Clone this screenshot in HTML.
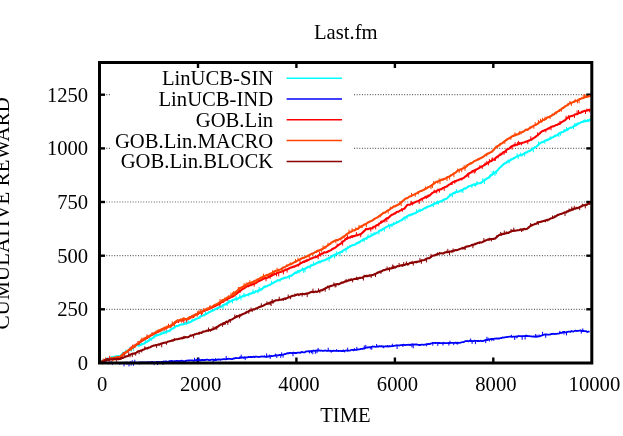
<!DOCTYPE html>
<html><head><meta charset="utf-8"><title>Last.fm</title>
<style>
html,body{margin:0;padding:0;background:#fff;}
body{width:623px;height:436px;overflow:hidden;}
svg{display:block;will-change:transform;}
text{font-family:"Liberation Serif",serif;font-size:20.65px;fill:#000;}
</style></head><body>
<svg width="623" height="436" viewBox="0 0 623 436">
<rect width="623" height="436" fill="#fff"/>
<g stroke="#000" stroke-width="1.2" stroke-dasharray="1 1.64" opacity="0.62">
<line x1="101.0" y1="309.3" x2="590.3" y2="309.3"/>
<line x1="101.0" y1="255.7" x2="590.3" y2="255.7"/>
<line x1="101.0" y1="202.0" x2="590.3" y2="202.0"/>
<line x1="101.0" y1="148.4" x2="111.0" y2="148.4"/>
<line x1="354.0" y1="148.4" x2="590.3" y2="148.4"/>
<line x1="101.0" y1="94.7" x2="111.0" y2="94.7"/>
<line x1="354.0" y1="94.7" x2="590.3" y2="94.7"/>
</g>
<g stroke="#000" stroke-width="2.4">
<line x1="99.5" y1="309.3" x2="105.0" y2="309.3"/>
<line x1="591.8" y1="309.3" x2="586.3" y2="309.3"/>
<line x1="99.5" y1="255.7" x2="105.0" y2="255.7"/>
<line x1="591.8" y1="255.7" x2="586.3" y2="255.7"/>
<line x1="99.5" y1="202.0" x2="105.0" y2="202.0"/>
<line x1="591.8" y1="202.0" x2="586.3" y2="202.0"/>
<line x1="99.5" y1="148.4" x2="105.0" y2="148.4"/>
<line x1="591.8" y1="148.4" x2="586.3" y2="148.4"/>
<line x1="99.5" y1="94.7" x2="105.0" y2="94.7"/>
<line x1="591.8" y1="94.7" x2="586.3" y2="94.7"/>
<line x1="198.0" y1="363.0" x2="198.0" y2="357.5"/>
<line x1="198.0" y1="62.5" x2="198.0" y2="68.0"/>
<line x1="296.4" y1="363.0" x2="296.4" y2="357.5"/>
<line x1="296.4" y1="62.5" x2="296.4" y2="68.0"/>
<line x1="394.9" y1="363.0" x2="394.9" y2="357.5"/>
<line x1="394.9" y1="62.5" x2="394.9" y2="68.0"/>
<line x1="493.3" y1="363.0" x2="493.3" y2="357.5"/>
<line x1="493.3" y1="62.5" x2="493.3" y2="68.0"/>
</g>
<g>
<path d="M99.5 363.2 L100.5 362.3 L101.5 361.3 L102.5 360.8 L103.5 360.7 L104.5 359.9 L105.5 359.5 L106.5 358.9 L107.5 358.8 L108.5 358.6 L109.5 358.2 L110.5 357.9 L111.5 357.6 L112.5 357.5 L113.5 357.0 L114.5 357.3 L115.5 356.8 L116.5 356.4 L117.5 356.3 L118.5 356.1 L119.5 356.2 L120.5 356.0 L121.5 354.5 L122.5 354.3 L123.5 353.8 L124.5 352.9 L125.5 352.1 L126.5 351.7 L127.5 351.0 L128.5 350.6 L129.5 349.8 L130.5 348.7 L131.5 348.5 L132.5 347.6 L133.5 347.5 L134.5 346.5 L135.5 345.8 L136.5 345.3 L137.5 345.2 L138.5 345.4 L139.5 345.1 L140.5 344.9 L141.5 344.6 L142.5 344.0 L143.5 343.8 L144.5 343.1 L145.5 342.4 L146.5 342.1 L147.5 341.2 L148.5 340.6 L149.5 339.9 L150.5 338.9 L151.5 338.8 L152.5 338.2 L153.5 337.3 L154.5 336.3 L155.5 335.3 L156.5 335.4 L157.5 335.3 L158.5 334.8 L159.5 334.5 L160.5 334.3 L161.5 333.8 L162.5 333.2 L163.5 333.1 L164.5 332.7 L165.5 331.9 L166.5 331.8 L167.5 331.3 L168.5 331.2 L169.5 330.7 L170.5 329.7 L171.5 328.9 L172.5 328.8 L173.5 328.0 L174.5 327.5 L175.5 326.2 L176.5 326.1 L177.5 326.0 L178.5 325.7 L179.5 325.0 L180.5 324.8 L181.5 324.4 L182.5 324.4 L183.5 324.2 L184.5 323.8 L185.5 323.3 L186.5 323.5 L187.5 323.1 L188.5 322.8 L189.5 322.3 L190.5 322.0 L191.5 321.4 L192.5 320.6 L193.5 320.3 L194.5 320.1 L195.5 319.1 L196.5 318.8 L197.5 318.4 L198.5 318.0 L199.5 317.3 L200.5 316.4 L201.5 315.9 L202.5 315.7 L203.5 315.3 L204.5 315.2 L205.5 314.0 L206.5 313.9 L207.5 313.4 L208.5 312.4 L209.5 312.0 L210.5 311.7 L211.5 311.1 L212.5 310.7 L213.5 310.3 L214.5 309.6 L215.5 309.3 L216.5 308.6 L217.5 308.1 L218.5 307.8 L219.5 307.1 L220.5 306.7 L221.5 306.5 L222.5 305.7 L223.5 305.1 L224.5 304.8 L225.5 304.1 L226.5 303.9 L227.5 302.8 L228.5 302.6 L229.5 301.8 L230.5 301.2 L231.5 301.1 L232.5 300.0 L233.5 300.0 L234.5 299.4 L235.5 299.3 L236.5 298.8 L237.5 298.8 L238.5 298.3 L239.5 297.5 L240.5 296.9 L241.5 297.0 L242.5 296.2 L243.5 295.8 L244.5 295.5 L245.5 295.4 L246.5 295.1 L247.5 294.7 L248.5 294.6 L249.5 293.8 L250.5 293.6 L251.5 293.4 L252.5 292.5 L253.5 292.6 L254.5 292.5 L255.5 291.5 L256.5 291.3 L257.5 291.0 L258.5 290.4 L259.5 290.2 L260.5 289.2 L261.5 289.0 L262.5 288.6 L263.5 287.4 L264.5 287.2 L265.5 286.4 L266.5 286.5 L267.5 285.8 L268.5 285.4 L269.5 285.0 L270.5 284.5 L271.5 283.8 L272.5 283.3 L273.5 282.7 L274.5 282.2 L275.5 281.5 L276.5 281.3 L277.5 280.4 L278.5 280.3 L279.5 280.3 L280.5 279.5 L281.5 278.8 L282.5 278.8 L283.5 278.2 L284.5 277.7 L285.5 277.6 L286.5 277.5 L287.5 277.1 L288.5 276.6 L289.5 276.0 L290.5 275.6 L291.5 275.7 L292.5 274.9 L293.5 274.1 L294.5 273.2 L295.5 272.8 L296.5 272.9 L297.5 271.6 L298.5 271.4 L299.5 271.1 L300.5 270.5 L301.5 270.1 L302.5 269.4 L303.5 269.0 L304.5 269.1 L305.5 268.2 L306.5 268.1 L307.5 267.1 L308.5 266.9 L309.5 266.6 L310.5 266.3 L311.5 265.4 L312.5 265.3 L313.5 264.8 L314.5 264.2 L315.5 263.9 L316.5 263.1 L317.5 262.6 L318.5 262.4 L319.5 261.5 L320.5 261.7 L321.5 261.2 L322.5 260.7 L323.5 260.5 L324.5 260.3 L325.5 259.6 L326.5 259.5 L327.5 258.6 L328.5 258.1 L329.5 258.1 L330.5 257.3 L331.5 256.8 L332.5 255.8 L333.5 255.5 L334.5 254.9 L335.5 254.5 L336.5 254.0 L337.5 253.8 L338.5 253.0 L339.5 252.6 L340.5 252.0 L341.5 251.9 L342.5 250.9 L343.5 250.3 L344.5 249.7 L345.5 249.3 L346.5 248.5 L347.5 248.1 L348.5 247.4 L349.5 246.8 L350.5 246.1 L351.5 245.8 L352.5 245.3 L353.5 245.0 L354.5 244.7 L355.5 244.3 L356.5 243.4 L357.5 243.2 L358.5 242.5 L359.5 242.2 L360.5 241.1 L361.5 240.7 L362.5 240.2 L363.5 239.6 L364.5 239.3 L365.5 238.5 L366.5 238.2 L367.5 237.3 L368.5 236.7 L369.5 236.8 L370.5 236.1 L371.5 235.6 L372.5 235.1 L373.5 234.6 L374.5 233.8 L375.5 233.7 L376.5 232.8 L377.5 232.5 L378.5 231.7 L379.5 230.8 L380.5 230.3 L381.5 230.2 L382.5 229.4 L383.5 228.7 L384.5 228.2 L385.5 227.5 L386.5 226.9 L387.5 226.4 L388.5 225.9 L389.5 225.8 L390.5 225.1 L391.5 225.0 L392.5 224.6 L393.5 224.2 L394.5 223.7 L395.5 223.1 L396.5 222.7 L397.5 222.2 L398.5 221.7 L399.5 221.3 L400.5 220.5 L401.5 220.3 L402.5 219.4 L403.5 218.5 L404.5 217.5 L405.5 217.3 L406.5 216.7 L407.5 216.1 L408.5 215.6 L409.5 214.9 L410.5 215.0 L411.5 214.4 L412.5 214.5 L413.5 213.6 L414.5 213.2 L415.5 213.1 L416.5 212.4 L417.5 211.9 L418.5 211.3 L419.5 210.7 L420.5 210.6 L421.5 210.1 L422.5 209.7 L423.5 208.8 L424.5 208.4 L425.5 207.7 L426.5 207.5 L427.5 206.6 L428.5 206.5 L429.5 206.2 L430.5 205.9 L431.5 205.0 L432.5 204.9 L433.5 204.2 L434.5 203.7 L435.5 203.2 L436.5 203.2 L437.5 202.9 L438.5 202.0 L439.5 201.6 L440.5 201.2 L441.5 201.4 L442.5 200.6 L443.5 199.9 L444.5 199.2 L445.5 199.0 L446.5 198.7 L447.5 198.0 L448.5 196.8 L449.5 196.0 L450.5 195.2 L451.5 194.2 L452.5 194.0 L453.5 193.0 L454.5 193.1 L455.5 192.2 L456.5 192.0 L457.5 192.0 L458.5 191.5 L459.5 191.4 L460.5 190.7 L461.5 190.0 L462.5 189.8 L463.5 189.4 L464.5 188.3 L465.5 188.6 L466.5 187.8 L467.5 187.4 L468.5 186.3 L469.5 186.1 L470.5 185.8 L471.5 185.7 L472.5 184.9 L473.5 184.7 L474.5 184.2 L475.5 184.3 L476.5 184.1 L477.5 183.4 L478.5 183.3 L479.5 183.2 L480.5 183.1 L481.5 182.5 L482.5 181.6 L483.5 180.8 L484.5 180.1 L485.5 179.5 L486.5 178.9 L487.5 178.1 L488.5 177.7 L489.5 176.6 L490.5 175.5 L491.5 175.2 L492.5 174.3 L493.5 173.7 L494.5 173.1 L495.5 172.1 L496.5 171.2 L497.5 170.5 L498.5 169.1 L499.5 168.0 L500.5 167.2 L501.5 166.2 L502.5 165.2 L503.5 164.1 L504.5 163.8 L505.5 162.8 L506.5 162.6 L507.5 161.6 L508.5 161.4 L509.5 160.7 L510.5 160.1 L511.5 159.6 L512.5 158.8 L513.5 158.5 L514.5 158.0 L515.5 157.3 L516.5 156.7 L517.5 156.1 L518.5 155.7 L519.5 155.4 L520.5 155.1 L521.5 155.3 L522.5 154.4 L523.5 154.0 L524.5 153.2 L525.5 152.8 L526.5 152.3 L527.5 151.9 L528.5 151.2 L529.5 151.2 L530.5 150.2 L531.5 149.9 L532.5 148.6 L533.5 148.4 L534.5 147.9 L535.5 147.2 L536.5 146.5 L537.5 145.6 L538.5 144.8 L539.5 143.6 L540.5 143.0 L541.5 142.2 L542.5 142.3 L543.5 141.7 L544.5 141.1 L545.5 140.5 L546.5 140.1 L547.5 140.1 L548.5 139.7 L549.5 138.9 L550.5 138.8 L551.5 137.8 L552.5 137.2 L553.5 136.9 L554.5 136.2 L555.5 135.7 L556.5 135.3 L557.5 135.2 L558.5 133.8 L559.5 133.3 L560.5 132.8 L561.5 132.3 L562.5 132.1 L563.5 131.8 L564.5 130.8 L565.5 130.6 L566.5 130.0 L567.5 129.7 L568.5 128.8 L569.5 128.2 L570.5 127.6 L571.5 127.7 L572.5 127.1 L573.5 126.6 L574.5 125.6 L575.5 125.5 L576.5 124.9 L577.5 124.1 L578.5 123.6 L579.5 123.3 L580.5 122.7 L581.5 122.0 L582.5 121.9 L583.5 121.4 L584.5 121.3 L585.5 121.1 L586.5 121.0 L587.5 120.7 L588.5 120.4 L589.5 120.2 L590.5 119.9" fill="none" stroke="#00ffff" stroke-width="2.1" stroke-linejoin="round"/>
<path d="M102.5 360.2 V363.6 M106.3 358.6 V362.6 M111.8 356.1 V358.2 M115.3 355.6 V357.4 M116.4 355.9 V359.1 M121.5 353.8 V356.4 M122.9 351.7 V354.3 M125.8 349.5 V353.1 M129.8 346.9 V350.5 M131.3 348.0 V351.6 M132.5 346.5 V348.3 M133.4 346.8 V350.8 M137.5 343.2 V346.0 M139.1 344.5 V346.8 M141.3 342.5 V345.2 M145.4 339.5 V343.6 M147.9 340.3 V342.4 M148.9 339.9 V341.8 M149.8 337.8 V340.2 M151.1 338.4 V341.0 M154.8 335.9 V338.4 M156.3 334.2 V336.6 M161.0 331.8 V334.3 M163.2 330.0 V334.1 M166.1 331.3 V334.2 M166.9 330.0 V332.7 M170.7 329.3 V331.5 M184.7 322.3 V324.2 M186.2 320.4 V324.6 M188.1 319.5 V323.7 M192.2 319.0 V321.4 M200.0 316.3 V318.6 M201.4 314.0 V317.2 M205.6 311.2 V314.9 M218.5 307.1 V309.1 M223.0 304.4 V309.1 M227.2 302.6 V305.8 M228.2 299.9 V303.1 M229.3 300.1 V302.8 M232.5 299.8 V303.4 M236.0 295.8 V299.8 M236.8 298.1 V301.2 M239.8 294.3 V297.8 M241.0 296.0 V300.3 M242.9 295.6 V297.4 M243.9 292.9 V296.4 M244.9 295.1 V297.4 M248.7 293.3 V296.5 M253.0 289.5 V293.5 M254.1 291.8 V293.7 M255.5 290.2 V292.2 M258.0 290.5 V293.4 M259.2 287.0 V291.4 M261.2 288.7 V291.3 M262.4 287.7 V289.6 M264.2 285.5 V287.9 M271.5 280.8 V284.9 M280.0 279.2 V281.8 M289.4 275.7 V279.3 M295.9 271.3 V273.3 M297.8 269.9 V272.6 M299.1 270.5 V273.6 M302.5 267.5 V270.7 M303.7 268.6 V272.8 M305.0 267.9 V272.3 M310.1 265.9 V268.8 M311.1 263.9 V266.4 M313.4 261.6 V265.7 M318.0 261.3 V263.1 M320.0 261.2 V263.6 M329.1 257.7 V261.7 M330.3 255.5 V258.3 M333.4 253.9 V255.9 M334.6 253.8 V258.5 M335.6 254.0 V256.5 M336.5 251.5 V255.0 M340.0 252.0 V256.3 M342.7 250.5 V252.8 M346.1 248.2 V252.5 M347.4 246.2 V249.3 M349.9 245.2 V247.5 M357.0 242.1 V244.1 M358.4 241.4 V243.5 M359.5 241.3 V243.3 M363.2 238.1 V241.0 M364.2 238.6 V242.2 M366.8 237.5 V240.0 M368.1 234.3 V238.2 M371.1 232.9 V236.3 M372.3 233.5 V235.8 M373.9 232.3 V234.9 M374.8 232.6 V234.6 M378.9 230.5 V234.6 M381.4 229.6 V231.3 M384.3 227.4 V231.6 M388.7 223.6 V226.7 M389.6 225.0 V229.0 M392.0 223.5 V227.3 M393.4 222.1 V224.3 M396.5 220.9 V223.4 M405.1 216.9 V220.7 M407.0 216.2 V219.2 M410.2 214.6 V216.4 M416.6 209.3 V212.9 M418.6 209.5 V211.8 M419.9 208.6 V211.8 M426.1 207.0 V209.1 M433.3 203.6 V207.2 M434.4 202.3 V204.5 M435.7 202.1 V204.0 M436.6 201.3 V203.9 M437.5 200.5 V203.4 M438.3 201.4 V204.5 M444.1 198.9 V201.5 M449.5 193.7 V197.0 M452.4 193.1 V197.4 M455.2 191.2 V193.8 M456.4 189.1 V193.0 M462.0 189.3 V192.5 M462.9 188.7 V193.0 M471.9 184.6 V187.9 M474.5 184.0 V186.1 M475.6 183.6 V186.8 M476.9 181.1 V184.9 M482.8 178.1 V182.2 M484.4 179.5 V184.0 M489.8 175.7 V178.8 M490.7 174.0 V176.7 M492.2 171.4 V174.8 M493.5 170.6 V174.5 M495.0 172.0 V175.8 M496.4 170.5 V174.2 M503.5 163.6 V165.3 M507.0 161.4 V163.4 M508.0 159.5 V162.0 M509.3 160.0 V163.2 M510.9 158.3 V160.2 M513.5 157.1 V159.2 M517.1 153.3 V156.9 M518.2 155.6 V159.2 M520.4 152.6 V155.9 M521.8 154.0 V156.5 M524.7 152.4 V156.4 M527.1 151.6 V153.4 M533.3 147.8 V152.3 M534.9 145.9 V148.2 M538.5 141.5 V145.6 M544.8 140.5 V143.8 M546.3 139.0 V140.7 M547.4 138.5 V140.2 M550.1 136.2 V139.3 M554.8 134.8 V136.6 M558.8 133.4 V137.0 M560.6 132.2 V135.8 M564.2 129.0 V131.8 M566.5 127.0 V130.5 M567.4 128.0 V130.6 M573.5 125.7 V129.1 M574.8 123.0 V126.8 M576.1 123.2 V125.9 M577.8 122.4 V125.3 M583.6 120.0 V122.5 M585.0 119.1 V122.2 M587.4 119.1 V121.3 M588.9 119.9 V122.2 M590.1 118.2 V120.6" fill="none" stroke="#00ffff" stroke-width="1"/>
<path d="M99.5 362.7 L100.5 363.1 L101.5 363.1 L102.5 362.9 L103.5 363.1 L104.5 362.8 L105.5 363.0 L106.5 362.6 L107.5 363.1 L108.5 363.3 L109.5 363.1 L110.5 362.9 L111.5 363.0 L112.5 362.9 L113.5 362.9 L114.5 362.9 L115.5 363.0 L116.5 362.8 L117.5 362.9 L118.5 362.8 L119.5 363.0 L120.5 363.1 L121.5 363.0 L122.5 362.9 L123.5 363.1 L124.5 362.7 L125.5 363.2 L126.5 362.4 L127.5 363.0 L128.5 362.8 L129.5 362.9 L130.5 362.5 L131.5 363.0 L132.5 362.8 L133.5 362.7 L134.5 362.9 L135.5 362.7 L136.5 362.7 L137.5 362.8 L138.5 362.6 L139.5 362.6 L140.5 362.4 L141.5 362.4 L142.5 362.5 L143.5 362.3 L144.5 362.5 L145.5 362.3 L146.5 362.3 L147.5 362.3 L148.5 362.1 L149.5 362.4 L150.5 362.4 L151.5 361.8 L152.5 362.2 L153.5 362.1 L154.5 362.3 L155.5 362.5 L156.5 362.0 L157.5 362.0 L158.5 361.9 L159.5 362.1 L160.5 362.1 L161.5 361.9 L162.5 361.8 L163.5 361.5 L164.5 361.6 L165.5 361.4 L166.5 361.5 L167.5 361.8 L168.5 361.5 L169.5 361.2 L170.5 361.1 L171.5 361.0 L172.5 361.2 L173.5 361.6 L174.5 361.1 L175.5 361.1 L176.5 360.9 L177.5 360.9 L178.5 361.2 L179.5 361.1 L180.5 360.8 L181.5 360.7 L182.5 360.9 L183.5 361.2 L184.5 361.3 L185.5 360.9 L186.5 360.6 L187.5 360.7 L188.5 360.5 L189.5 360.3 L190.5 360.3 L191.5 360.4 L192.5 360.5 L193.5 360.6 L194.5 360.5 L195.5 360.3 L196.5 359.8 L197.5 360.4 L198.5 360.2 L199.5 360.0 L200.5 360.3 L201.5 359.9 L202.5 360.0 L203.5 360.1 L204.5 360.0 L205.5 360.0 L206.5 359.6 L207.5 359.7 L208.5 360.0 L209.5 360.1 L210.5 360.0 L211.5 359.7 L212.5 359.7 L213.5 359.7 L214.5 360.1 L215.5 359.7 L216.5 360.0 L217.5 359.5 L218.5 359.5 L219.5 359.5 L220.5 359.8 L221.5 359.3 L222.5 359.4 L223.5 359.2 L224.5 359.2 L225.5 359.4 L226.5 359.0 L227.5 359.0 L228.5 358.7 L229.5 358.8 L230.5 358.9 L231.5 359.1 L232.5 359.1 L233.5 358.4 L234.5 358.5 L235.5 358.0 L236.5 358.2 L237.5 358.2 L238.5 358.2 L239.5 358.1 L240.5 357.7 L241.5 357.6 L242.5 357.4 L243.5 357.9 L244.5 357.2 L245.5 357.6 L246.5 357.3 L247.5 357.4 L248.5 356.8 L249.5 357.1 L250.5 357.0 L251.5 356.9 L252.5 357.0 L253.5 356.6 L254.5 357.1 L255.5 356.6 L256.5 356.7 L257.5 356.9 L258.5 356.8 L259.5 357.0 L260.5 356.6 L261.5 356.4 L262.5 356.6 L263.5 356.6 L264.5 356.2 L265.5 356.9 L266.5 356.9 L267.5 356.3 L268.5 356.6 L269.5 356.3 L270.5 356.3 L271.5 355.9 L272.5 356.1 L273.5 355.9 L274.5 355.7 L275.5 355.4 L276.5 355.3 L277.5 355.4 L278.5 355.4 L279.5 354.9 L280.5 355.0 L281.5 354.7 L282.5 354.9 L283.5 354.5 L284.5 354.2 L285.5 354.0 L286.5 353.6 L287.5 353.2 L288.5 353.4 L289.5 352.9 L290.5 352.8 L291.5 353.1 L292.5 353.0 L293.5 352.7 L294.5 353.1 L295.5 352.8 L296.5 353.1 L297.5 352.7 L298.5 352.6 L299.5 352.6 L300.5 352.8 L301.5 352.0 L302.5 352.1 L303.5 352.3 L304.5 352.4 L305.5 351.7 L306.5 351.4 L307.5 351.4 L308.5 351.2 L309.5 351.6 L310.5 351.3 L311.5 350.9 L312.5 351.2 L313.5 350.5 L314.5 350.8 L315.5 350.7 L316.5 350.7 L317.5 350.5 L318.5 350.6 L319.5 350.3 L320.5 350.8 L321.5 350.5 L322.5 350.8 L323.5 350.9 L324.5 350.6 L325.5 350.5 L326.5 350.8 L327.5 350.9 L328.5 350.5 L329.5 350.8 L330.5 350.7 L331.5 351.2 L332.5 351.0 L333.5 350.6 L334.5 350.8 L335.5 350.9 L336.5 350.8 L337.5 350.9 L338.5 351.0 L339.5 350.9 L340.5 350.8 L341.5 351.2 L342.5 351.0 L343.5 350.8 L344.5 350.8 L345.5 350.7 L346.5 350.5 L347.5 350.7 L348.5 350.7 L349.5 350.6 L350.5 350.3 L351.5 349.8 L352.5 349.9 L353.5 350.3 L354.5 349.6 L355.5 349.9 L356.5 349.8 L357.5 349.5 L358.5 349.3 L359.5 349.3 L360.5 349.0 L361.5 348.8 L362.5 348.8 L363.5 348.4 L364.5 348.6 L365.5 347.6 L366.5 347.6 L367.5 347.5 L368.5 347.4 L369.5 347.1 L370.5 347.4 L371.5 347.0 L372.5 346.4 L373.5 346.6 L374.5 346.7 L375.5 346.8 L376.5 346.6 L377.5 346.3 L378.5 346.6 L379.5 346.1 L380.5 346.4 L381.5 346.1 L382.5 346.6 L383.5 346.4 L384.5 346.7 L385.5 346.2 L386.5 346.3 L387.5 346.2 L388.5 346.5 L389.5 346.1 L390.5 346.4 L391.5 346.1 L392.5 346.2 L393.5 346.0 L394.5 345.7 L395.5 345.7 L396.5 345.3 L397.5 345.3 L398.5 345.3 L399.5 345.5 L400.5 345.1 L401.5 345.2 L402.5 345.0 L403.5 344.7 L404.5 345.0 L405.5 345.1 L406.5 344.8 L407.5 344.8 L408.5 344.7 L409.5 344.8 L410.5 345.0 L411.5 344.3 L412.5 344.5 L413.5 344.3 L414.5 344.6 L415.5 344.5 L416.5 344.5 L417.5 344.7 L418.5 345.0 L419.5 344.9 L420.5 345.0 L421.5 344.6 L422.5 344.7 L423.5 344.9 L424.5 344.7 L425.5 344.6 L426.5 344.2 L427.5 344.1 L428.5 343.9 L429.5 344.1 L430.5 343.6 L431.5 343.4 L432.5 343.0 L433.5 342.9 L434.5 342.8 L435.5 343.0 L436.5 342.8 L437.5 342.9 L438.5 343.2 L439.5 342.8 L440.5 343.1 L441.5 343.2 L442.5 343.3 L443.5 342.7 L444.5 343.2 L445.5 343.1 L446.5 343.2 L447.5 343.1 L448.5 342.9 L449.5 343.1 L450.5 342.9 L451.5 342.8 L452.5 342.8 L453.5 342.8 L454.5 342.9 L455.5 342.6 L456.5 343.0 L457.5 342.6 L458.5 342.9 L459.5 342.8 L460.5 342.6 L461.5 342.4 L462.5 342.2 L463.5 342.2 L464.5 341.5 L465.5 341.1 L466.5 341.2 L467.5 341.0 L468.5 341.4 L469.5 340.6 L470.5 341.0 L471.5 341.2 L472.5 341.1 L473.5 341.1 L474.5 340.7 L475.5 340.8 L476.5 340.9 L477.5 341.0 L478.5 341.0 L479.5 341.2 L480.5 340.7 L481.5 341.0 L482.5 341.2 L483.5 340.8 L484.5 340.4 L485.5 340.4 L486.5 339.9 L487.5 340.0 L488.5 339.5 L489.5 339.5 L490.5 339.2 L491.5 338.9 L492.5 339.0 L493.5 338.9 L494.5 338.7 L495.5 338.7 L496.5 338.4 L497.5 338.7 L498.5 338.5 L499.5 338.5 L500.5 338.2 L501.5 338.0 L502.5 337.5 L503.5 337.6 L504.5 337.5 L505.5 337.2 L506.5 337.1 L507.5 336.9 L508.5 336.8 L509.5 336.7 L510.5 336.7 L511.5 336.5 L512.5 336.9 L513.5 336.7 L514.5 336.7 L515.5 336.7 L516.5 336.4 L517.5 336.6 L518.5 336.0 L519.5 336.1 L520.5 336.2 L521.5 336.4 L522.5 336.2 L523.5 336.1 L524.5 336.1 L525.5 335.9 L526.5 336.1 L527.5 336.0 L528.5 336.2 L529.5 336.1 L530.5 336.3 L531.5 336.3 L532.5 336.6 L533.5 336.4 L534.5 336.6 L535.5 336.6 L536.5 336.6 L537.5 336.7 L538.5 336.3 L539.5 336.4 L540.5 335.9 L541.5 335.7 L542.5 335.0 L543.5 334.9 L544.5 334.5 L545.5 334.5 L546.5 334.4 L547.5 334.6 L548.5 334.6 L549.5 334.7 L550.5 334.4 L551.5 333.8 L552.5 334.0 L553.5 333.7 L554.5 334.2 L555.5 333.9 L556.5 333.8 L557.5 333.6 L558.5 333.7 L559.5 333.3 L560.5 332.7 L561.5 333.0 L562.5 332.7 L563.5 332.0 L564.5 332.0 L565.5 332.5 L566.5 332.2 L567.5 331.9 L568.5 331.6 L569.5 331.6 L570.5 331.9 L571.5 331.0 L572.5 331.4 L573.5 331.6 L574.5 331.0 L575.5 330.7 L576.5 331.0 L577.5 330.9 L578.5 330.8 L579.5 330.6 L580.5 330.4 L581.5 330.8 L582.5 331.0 L583.5 331.0 L584.5 331.1 L585.5 331.1 L586.5 331.4 L587.5 332.1 L588.5 331.5 L589.5 331.9" fill="none" stroke="#0000ff" stroke-width="1.8" stroke-linejoin="round"/>
<path d="M102.5 359.7 V363.5 M111.2 361.2 V363.3 M112.4 362.0 V364.8 M119.9 362.2 V364.8 M124.0 362.3 V366.4 M126.9 361.9 V364.9 M129.0 362.2 V366.4 M130.2 361.2 V363.8 M131.2 362.4 V365.6 M132.2 360.2 V363.7 M133.5 362.3 V365.8 M134.8 359.7 V363.3 M139.3 361.6 V364.7 M151.8 361.2 V364.0 M154.1 361.7 V365.2 M157.5 361.1 V365.1 M162.9 361.0 V364.9 M180.5 360.2 V363.4 M194.5 357.8 V361.4 M196.8 359.7 V361.7 M198.9 357.7 V361.1 M213.2 359.0 V362.3 M215.7 358.2 V361.0 M226.2 356.0 V359.5 M240.0 356.1 V358.4 M241.2 354.6 V358.4 M245.2 357.0 V360.1 M266.6 353.4 V357.5 M269.3 354.5 V357.0 M270.2 355.4 V358.9 M275.4 353.6 V356.5 M276.8 354.6 V358.0 M280.8 354.3 V357.9 M281.7 352.3 V355.6 M283.1 354.0 V357.6 M293.0 351.9 V356.3 M309.5 350.4 V353.4 M311.5 350.3 V353.2 M312.8 350.4 V354.3 M315.4 350.1 V353.8 M317.0 349.7 V353.2 M318.1 347.9 V351.3 M328.2 347.7 V351.4 M331.2 350.3 V352.7 M336.6 349.1 V351.3 M343.2 349.4 V351.9 M344.6 350.4 V352.4 M347.7 347.7 V351.5 M354.4 348.2 V350.4 M356.8 346.9 V350.3 M364.3 345.5 V348.9 M365.8 344.9 V348.2 M370.8 346.4 V349.3 M371.8 346.0 V349.8 M376.6 344.0 V347.1 M383.4 345.9 V348.2 M387.8 345.1 V347.4 M392.3 343.7 V346.5 M397.1 344.7 V349.0 M402.9 344.1 V347.0 M411.9 344.0 V347.3 M413.2 343.9 V348.3 M426.7 343.8 V346.3 M432.8 342.1 V345.7 M437.8 342.4 V345.9 M443.0 342.0 V345.5 M448.9 342.2 V345.6 M450.0 340.7 V343.9 M453.7 342.0 V345.1 M456.6 342.0 V344.2 M457.7 342.1 V344.6 M470.7 338.5 V341.5 M472.1 340.0 V343.9 M475.4 340.5 V344.2 M485.7 339.2 V343.1 M486.9 336.8 V340.6 M488.1 337.7 V340.2 M489.4 338.9 V341.5 M491.8 338.3 V341.1 M493.8 338.1 V340.8 M511.4 334.8 V337.4 M514.7 336.2 V340.0 M516.9 336.0 V338.4 M522.2 335.3 V339.8 M525.1 335.3 V339.5 M526.2 334.5 V336.6 M535.4 334.1 V337.5 M536.9 334.6 V337.4 M539.1 334.4 V336.9 M542.6 331.8 V335.8 M545.7 334.1 V337.8 M559.8 330.9 V334.0 M562.8 331.1 V333.0 M564.0 331.4 V334.6 M566.5 331.8 V335.4 M581.3 329.9 V333.6 M582.8 328.4 V331.3" fill="none" stroke="#0000ff" stroke-width="1"/>
<path d="M99.5 362.9 L100.5 362.7 L101.5 362.0 L102.5 361.4 L103.5 361.1 L104.5 360.9 L105.5 360.2 L106.5 360.1 L107.5 359.6 L108.5 359.6 L109.5 358.7 L110.5 359.3 L111.5 358.8 L112.5 358.4 L113.5 358.3 L114.5 358.4 L115.5 358.0 L116.5 357.6 L117.5 357.4 L118.5 357.0 L119.5 357.1 L120.5 357.0 L121.5 355.8 L122.5 355.0 L123.5 354.0 L124.5 353.4 L125.5 352.8 L126.5 351.7 L127.5 351.4 L128.5 350.5 L129.5 349.9 L130.5 349.2 L131.5 348.5 L132.5 347.8 L133.5 347.2 L134.5 346.2 L135.5 345.4 L136.5 344.4 L137.5 344.0 L138.5 343.5 L139.5 342.5 L140.5 342.0 L141.5 341.0 L142.5 340.5 L143.5 340.0 L144.5 339.3 L145.5 338.7 L146.5 338.3 L147.5 337.6 L148.5 337.1 L149.5 336.2 L150.5 335.6 L151.5 335.3 L152.5 334.4 L153.5 334.3 L154.5 333.4 L155.5 333.0 L156.5 332.6 L157.5 331.7 L158.5 331.8 L159.5 330.9 L160.5 330.4 L161.5 329.7 L162.5 329.1 L163.5 328.6 L164.5 328.3 L165.5 328.2 L166.5 327.5 L167.5 327.4 L168.5 326.5 L169.5 326.3 L170.5 326.5 L171.5 325.6 L172.5 324.6 L173.5 324.4 L174.5 323.3 L175.5 322.2 L176.5 321.7 L177.5 321.2 L178.5 321.2 L179.5 320.5 L180.5 320.1 L181.5 319.9 L182.5 320.0 L183.5 319.8 L184.5 319.4 L185.5 319.3 L186.5 319.1 L187.5 319.3 L188.5 318.4 L189.5 318.1 L190.5 317.7 L191.5 317.0 L192.5 316.1 L193.5 316.0 L194.5 315.5 L195.5 314.9 L196.5 314.5 L197.5 314.3 L198.5 313.3 L199.5 312.9 L200.5 312.6 L201.5 312.3 L202.5 311.5 L203.5 311.2 L204.5 310.8 L205.5 310.1 L206.5 309.8 L207.5 309.6 L208.5 309.0 L209.5 308.5 L210.5 308.1 L211.5 307.7 L212.5 307.3 L213.5 306.9 L214.5 306.4 L215.5 305.8 L216.5 305.4 L217.5 304.8 L218.5 304.1 L219.5 303.9 L220.5 302.8 L221.5 301.9 L222.5 301.9 L223.5 301.0 L224.5 300.6 L225.5 299.8 L226.5 299.5 L227.5 298.7 L228.5 298.4 L229.5 298.1 L230.5 297.4 L231.5 296.6 L232.5 296.6 L233.5 296.0 L234.5 295.3 L235.5 294.2 L236.5 293.7 L237.5 292.9 L238.5 292.2 L239.5 291.3 L240.5 290.8 L241.5 289.8 L242.5 289.1 L243.5 288.5 L244.5 288.0 L245.5 287.4 L246.5 286.5 L247.5 286.1 L248.5 286.1 L249.5 285.4 L250.5 285.3 L251.5 284.7 L252.5 284.2 L253.5 283.9 L254.5 283.4 L255.5 283.3 L256.5 282.6 L257.5 281.8 L258.5 281.4 L259.5 280.9 L260.5 280.4 L261.5 280.0 L262.5 279.3 L263.5 278.7 L264.5 278.2 L265.5 278.1 L266.5 278.1 L267.5 277.6 L268.5 277.3 L269.5 276.6 L270.5 275.9 L271.5 275.9 L272.5 275.0 L273.5 274.5 L274.5 273.6 L275.5 273.9 L276.5 273.5 L277.5 272.6 L278.5 272.5 L279.5 272.2 L280.5 272.0 L281.5 271.7 L282.5 271.1 L283.5 270.7 L284.5 270.5 L285.5 269.6 L286.5 269.6 L287.5 269.2 L288.5 268.8 L289.5 268.1 L290.5 267.8 L291.5 267.3 L292.5 267.1 L293.5 266.5 L294.5 266.8 L295.5 265.8 L296.5 265.8 L297.5 265.0 L298.5 264.6 L299.5 264.4 L300.5 262.9 L301.5 263.0 L302.5 262.3 L303.5 261.6 L304.5 261.9 L305.5 260.8 L306.5 260.9 L307.5 260.3 L308.5 260.0 L309.5 259.3 L310.5 258.9 L311.5 258.4 L312.5 258.2 L313.5 257.5 L314.5 257.2 L315.5 257.3 L316.5 256.8 L317.5 256.2 L318.5 255.5 L319.5 254.9 L320.5 254.5 L321.5 253.7 L322.5 253.7 L323.5 252.9 L324.5 252.2 L325.5 252.5 L326.5 252.2 L327.5 251.7 L328.5 251.2 L329.5 250.7 L330.5 250.4 L331.5 249.8 L332.5 248.7 L333.5 248.6 L334.5 247.9 L335.5 247.6 L336.5 246.5 L337.5 245.8 L338.5 244.9 L339.5 244.5 L340.5 243.7 L341.5 243.1 L342.5 241.9 L343.5 241.2 L344.5 240.6 L345.5 239.1 L346.5 239.0 L347.5 238.4 L348.5 237.7 L349.5 237.4 L350.5 237.2 L351.5 236.6 L352.5 236.6 L353.5 236.0 L354.5 236.1 L355.5 235.5 L356.5 235.5 L357.5 235.2 L358.5 234.7 L359.5 234.4 L360.5 234.3 L361.5 233.6 L362.5 232.6 L363.5 231.7 L364.5 230.9 L365.5 229.7 L366.5 229.1 L367.5 229.1 L368.5 228.9 L369.5 228.6 L370.5 228.4 L371.5 228.2 L372.5 227.9 L373.5 226.8 L374.5 226.8 L375.5 226.2 L376.5 225.3 L377.5 225.0 L378.5 224.3 L379.5 223.4 L380.5 223.0 L381.5 222.1 L382.5 221.7 L383.5 221.1 L384.5 220.2 L385.5 219.5 L386.5 218.5 L387.5 218.0 L388.5 217.6 L389.5 217.0 L390.5 215.6 L391.5 215.3 L392.5 214.5 L393.5 214.3 L394.5 213.4 L395.5 213.4 L396.5 212.1 L397.5 211.8 L398.5 211.8 L399.5 211.0 L400.5 210.3 L401.5 210.0 L402.5 209.4 L403.5 208.9 L404.5 208.6 L405.5 207.1 L406.5 205.9 L407.5 204.8 L408.5 204.8 L409.5 204.7 L410.5 204.4 L411.5 203.3 L412.5 203.5 L413.5 202.9 L414.5 202.5 L415.5 201.9 L416.5 201.6 L417.5 201.3 L418.5 200.9 L419.5 200.4 L420.5 199.5 L421.5 199.2 L422.5 198.5 L423.5 198.3 L424.5 197.7 L425.5 196.9 L426.5 196.9 L427.5 196.5 L428.5 195.4 L429.5 195.7 L430.5 194.6 L431.5 193.8 L432.5 192.8 L433.5 192.4 L434.5 191.8 L435.5 191.6 L436.5 190.9 L437.5 190.5 L438.5 190.1 L439.5 189.8 L440.5 189.3 L441.5 189.2 L442.5 188.1 L443.5 187.8 L444.5 187.4 L445.5 186.8 L446.5 186.8 L447.5 185.9 L448.5 184.9 L449.5 184.5 L450.5 183.8 L451.5 183.0 L452.5 182.3 L453.5 181.7 L454.5 181.6 L455.5 181.0 L456.5 180.7 L457.5 180.3 L458.5 180.1 L459.5 179.5 L460.5 179.1 L461.5 178.9 L462.5 178.5 L463.5 178.1 L464.5 177.2 L465.5 176.3 L466.5 176.3 L467.5 174.7 L468.5 174.0 L469.5 173.0 L470.5 172.7 L471.5 172.1 L472.5 171.0 L473.5 171.2 L474.5 170.2 L475.5 170.0 L476.5 169.5 L477.5 168.8 L478.5 168.5 L479.5 167.6 L480.5 167.3 L481.5 166.7 L482.5 166.1 L483.5 165.6 L484.5 164.9 L485.5 164.2 L486.5 163.8 L487.5 163.0 L488.5 162.6 L489.5 161.7 L490.5 161.0 L491.5 161.1 L492.5 159.8 L493.5 159.8 L494.5 159.6 L495.5 158.1 L496.5 157.2 L497.5 156.5 L498.5 155.9 L499.5 155.2 L500.5 154.8 L501.5 154.2 L502.5 153.0 L503.5 152.1 L504.5 152.3 L505.5 150.9 L506.5 149.9 L507.5 149.2 L508.5 148.9 L509.5 148.3 L510.5 147.1 L511.5 146.5 L512.5 146.0 L513.5 145.5 L514.5 145.4 L515.5 145.1 L516.5 144.8 L517.5 144.6 L518.5 144.1 L519.5 143.7 L520.5 143.2 L521.5 143.2 L522.5 142.7 L523.5 142.5 L524.5 142.2 L525.5 141.8 L526.5 141.6 L527.5 141.1 L528.5 140.6 L529.5 140.5 L530.5 139.7 L531.5 139.6 L532.5 138.7 L533.5 138.3 L534.5 137.5 L535.5 137.0 L536.5 135.9 L537.5 135.5 L538.5 134.3 L539.5 133.7 L540.5 132.6 L541.5 131.8 L542.5 131.0 L543.5 130.9 L544.5 130.3 L545.5 129.9 L546.5 129.5 L547.5 129.0 L548.5 128.4 L549.5 128.0 L550.5 127.3 L551.5 126.8 L552.5 126.4 L553.5 126.4 L554.5 125.9 L555.5 125.3 L556.5 125.0 L557.5 124.7 L558.5 123.9 L559.5 124.0 L560.5 123.0 L561.5 122.1 L562.5 121.7 L563.5 121.0 L564.5 120.5 L565.5 119.8 L566.5 118.7 L567.5 118.0 L568.5 117.3 L569.5 116.8 L570.5 116.3 L571.5 116.0 L572.5 115.9 L573.5 115.4 L574.5 114.8 L575.5 114.2 L576.5 114.2 L577.5 113.9 L578.5 112.9 L579.5 112.9 L580.5 112.8 L581.5 112.3 L582.5 111.8 L583.5 111.3 L584.5 110.9 L585.5 110.8 L586.5 110.7 L587.5 110.4 L588.5 110.1 L589.5 109.7 L590.5 109.4" fill="none" stroke="#ff0000" stroke-width="2.1" stroke-linejoin="round"/>
<path d="M109.7 355.7 V359.9 M122.2 354.3 V357.0 M123.3 352.0 V355.4 M131.3 346.1 V349.6 M132.9 344.5 V348.1 M134.1 344.9 V347.3 M135.4 344.2 V346.1 M138.0 340.9 V344.0 M138.9 341.9 V345.1 M147.0 334.5 V338.4 M148.0 335.7 V337.9 M152.1 332.2 V335.5 M164.6 326.6 V328.9 M166.1 327.0 V330.5 M168.5 323.8 V327.3 M175.3 321.1 V323.5 M176.7 320.2 V322.5 M178.6 320.6 V323.0 M181.1 319.0 V321.7 M182.2 319.1 V321.9 M183.8 319.0 V323.1 M186.7 318.7 V322.4 M189.3 316.2 V319.3 M193.5 315.1 V318.0 M197.7 311.4 V315.1 M201.6 311.4 V315.3 M206.0 308.6 V310.7 M210.0 305.3 V309.3 M219.9 302.5 V306.6 M220.8 301.3 V303.6 M222.3 299.1 V302.3 M223.3 300.4 V302.8 M227.2 298.1 V301.0 M228.4 295.3 V298.8 M232.6 293.6 V297.1 M235.0 291.9 V296.1 M236.6 292.6 V295.0 M240.0 290.4 V293.1 M244.1 285.7 V289.1 M248.4 284.3 V286.3 M250.8 283.4 V285.8 M251.9 283.0 V285.2 M254.2 283.0 V286.7 M258.7 279.8 V282.0 M259.6 279.5 V281.8 M264.9 277.1 V278.9 M266.0 277.1 V281.2 M268.1 275.5 V278.2 M270.2 275.5 V278.7 M271.5 274.1 V276.5 M274.0 273.5 V275.7 M276.5 272.5 V276.3 M278.7 272.0 V276.3 M282.6 269.7 V272.2 M283.4 270.3 V274.4 M287.1 269.0 V272.5 M298.3 264.0 V266.7 M305.4 259.9 V262.3 M306.9 258.8 V261.4 M310.2 257.7 V260.0 M318.1 254.9 V259.1 M319.6 251.7 V255.6 M320.7 253.8 V256.5 M327.2 251.0 V252.9 M337.2 243.7 V247.0 M341.8 240.8 V243.1 M342.6 241.0 V245.6 M346.6 237.0 V239.2 M347.5 235.1 V239.3 M350.2 236.9 V238.7 M351.3 235.4 V237.6 M352.6 235.6 V238.1 M356.4 232.1 V235.9 M360.7 233.2 V237.2 M363.3 230.5 V232.4 M365.7 228.0 V229.8 M370.8 227.8 V231.6 M372.9 226.9 V229.6 M375.7 225.2 V229.4 M378.8 223.6 V226.5 M380.7 220.8 V223.5 M381.9 220.2 V222.8 M384.9 218.8 V222.4 M386.8 218.0 V222.1 M388.2 216.9 V219.6 M391.6 213.9 V216.0 M401.6 208.3 V210.8 M402.4 209.1 V211.8 M411.3 200.8 V204.3 M412.5 202.4 V205.4 M419.2 199.9 V204.0 M422.3 198.3 V201.5 M426.3 195.8 V199.0 M427.8 195.7 V198.0 M434.2 189.6 V193.0 M436.7 189.9 V193.5 M438.0 188.6 V190.9 M439.4 188.9 V192.6 M444.2 186.7 V190.9 M451.4 182.7 V185.0 M452.2 182.0 V184.9 M454.7 180.5 V183.7 M455.9 180.1 V182.5 M461.8 177.7 V180.5 M466.0 174.9 V176.9 M467.0 174.1 V175.8 M467.8 172.9 V175.6 M468.7 173.0 V177.7 M472.0 171.4 V173.2 M474.2 169.6 V173.6 M475.4 168.8 V172.5 M479.9 165.1 V168.1 M482.3 165.4 V168.9 M485.1 162.4 V165.3 M486.9 160.8 V164.3 M488.4 161.9 V165.4 M489.4 159.0 V162.9 M492.0 157.6 V160.8 M492.8 157.6 V160.4 M495.3 157.6 V160.9 M498.1 155.8 V158.4 M500.1 152.7 V155.9 M504.0 151.4 V154.9 M506.4 149.5 V153.0 M511.2 145.9 V148.3 M512.1 145.5 V149.6 M514.2 143.9 V145.9 M515.1 142.3 V146.2 M517.5 142.2 V145.3 M518.4 140.8 V144.5 M519.5 142.0 V144.5 M521.5 142.3 V145.3 M527.8 140.0 V144.2 M530.8 136.3 V140.2 M537.6 132.4 V135.7 M545.8 128.9 V132.4 M549.2 127.6 V129.5 M551.0 126.8 V130.3 M560.0 120.9 V124.4 M566.1 115.8 V119.4 M568.4 115.1 V118.4 M569.5 116.0 V120.1 M574.5 114.3 V117.9 M577.1 110.5 V114.9 M578.5 110.0 V114.0 M581.5 110.8 V112.8 M585.5 110.0 V114.0 M586.8 108.6 V111.1 M588.0 108.9 V110.7 M589.4 109.2 V112.3" fill="none" stroke="#ff0000" stroke-width="1"/>
<path d="M99.5 363.1 L100.5 362.2 L101.5 361.8 L102.5 361.6 L103.5 360.8 L104.5 360.1 L105.5 360.5 L106.5 360.3 L107.5 359.3 L108.5 359.3 L109.5 358.9 L110.5 358.5 L111.5 358.1 L112.5 358.6 L113.5 358.0 L114.5 357.5 L115.5 357.7 L116.5 357.4 L117.5 357.0 L118.5 357.4 L119.5 356.9 L120.5 356.5 L121.5 355.6 L122.5 355.1 L123.5 354.4 L124.5 353.1 L125.5 352.2 L126.5 351.9 L127.5 351.3 L128.5 350.1 L129.5 349.3 L130.5 349.0 L131.5 348.3 L132.5 347.5 L133.5 346.7 L134.5 345.9 L135.5 345.2 L136.5 344.3 L137.5 343.5 L138.5 343.2 L139.5 342.0 L140.5 341.4 L141.5 340.7 L142.5 339.9 L143.5 339.2 L144.5 338.7 L145.5 338.2 L146.5 337.3 L147.5 337.0 L148.5 336.7 L149.5 336.2 L150.5 335.2 L151.5 334.8 L152.5 334.2 L153.5 333.9 L154.5 332.9 L155.5 332.3 L156.5 332.2 L157.5 331.3 L158.5 330.4 L159.5 330.5 L160.5 330.0 L161.5 329.5 L162.5 328.9 L163.5 328.7 L164.5 328.3 L165.5 327.8 L166.5 327.6 L167.5 326.9 L168.5 325.9 L169.5 326.2 L170.5 325.9 L171.5 325.0 L172.5 324.5 L173.5 323.5 L174.5 322.8 L175.5 321.9 L176.5 321.1 L177.5 320.9 L178.5 320.6 L179.5 320.1 L180.5 319.6 L181.5 319.8 L182.5 319.4 L183.5 318.6 L184.5 319.1 L185.5 319.0 L186.5 319.1 L187.5 318.9 L188.5 318.2 L189.5 317.4 L190.5 317.2 L191.5 316.5 L192.5 315.8 L193.5 315.5 L194.5 315.0 L195.5 314.5 L196.5 314.0 L197.5 313.6 L198.5 313.2 L199.5 312.4 L200.5 312.3 L201.5 311.9 L202.5 311.0 L203.5 310.8 L204.5 310.0 L205.5 309.7 L206.5 309.2 L207.5 309.1 L208.5 308.2 L209.5 308.6 L210.5 307.7 L211.5 307.1 L212.5 306.5 L213.5 305.7 L214.5 305.1 L215.5 304.8 L216.5 304.1 L217.5 303.7 L218.5 303.3 L219.5 302.4 L220.5 301.9 L221.5 301.1 L222.5 300.3 L223.5 299.9 L224.5 299.7 L225.5 298.8 L226.5 298.2 L227.5 297.4 L228.5 297.0 L229.5 296.9 L230.5 296.1 L231.5 295.3 L232.5 294.9 L233.5 294.6 L234.5 294.2 L235.5 292.0 L236.5 291.4 L237.5 290.5 L238.5 289.3 L239.5 288.6 L240.5 288.1 L241.5 287.2 L242.5 286.9 L243.5 286.3 L244.5 285.7 L245.5 285.0 L246.5 284.6 L247.5 283.8 L248.5 283.2 L249.5 283.3 L250.5 283.1 L251.5 282.3 L252.5 282.2 L253.5 281.7 L254.5 280.9 L255.5 280.6 L256.5 280.3 L257.5 279.4 L258.5 279.1 L259.5 278.6 L260.5 277.9 L261.5 277.7 L262.5 276.9 L263.5 276.7 L264.5 276.1 L265.5 275.6 L266.5 275.3 L267.5 274.7 L268.5 275.0 L269.5 273.9 L270.5 273.5 L271.5 273.3 L272.5 272.7 L273.5 272.2 L274.5 271.3 L275.5 270.9 L276.5 270.7 L277.5 270.4 L278.5 270.2 L279.5 269.9 L280.5 269.4 L281.5 269.0 L282.5 268.0 L283.5 267.5 L284.5 267.1 L285.5 266.7 L286.5 266.0 L287.5 265.6 L288.5 265.2 L289.5 264.5 L290.5 264.1 L291.5 263.9 L292.5 263.3 L293.5 262.6 L294.5 262.2 L295.5 261.7 L296.5 261.2 L297.5 260.8 L298.5 260.0 L299.5 260.0 L300.5 258.9 L301.5 258.7 L302.5 257.9 L303.5 258.0 L304.5 257.5 L305.5 256.8 L306.5 256.6 L307.5 255.9 L308.5 255.7 L309.5 254.9 L310.5 254.4 L311.5 253.8 L312.5 253.5 L313.5 253.1 L314.5 252.6 L315.5 251.9 L316.5 251.4 L317.5 250.8 L318.5 250.5 L319.5 250.2 L320.5 249.8 L321.5 249.5 L322.5 248.8 L323.5 248.2 L324.5 248.0 L325.5 247.0 L326.5 246.3 L327.5 245.7 L328.5 244.9 L329.5 244.4 L330.5 243.6 L331.5 242.6 L332.5 242.0 L333.5 241.5 L334.5 240.7 L335.5 240.6 L336.5 240.0 L337.5 240.2 L338.5 239.7 L339.5 239.0 L340.5 239.0 L341.5 237.9 L342.5 237.4 L343.5 236.7 L344.5 236.1 L345.5 235.4 L346.5 234.2 L347.5 233.8 L348.5 233.0 L349.5 232.4 L350.5 231.8 L351.5 231.7 L352.5 230.8 L353.5 230.2 L354.5 230.5 L355.5 229.7 L356.5 229.1 L357.5 229.0 L358.5 228.2 L359.5 227.6 L360.5 226.6 L361.5 226.6 L362.5 225.6 L363.5 225.1 L364.5 224.4 L365.5 224.2 L366.5 223.6 L367.5 222.8 L368.5 222.3 L369.5 221.7 L370.5 221.3 L371.5 220.9 L372.5 220.3 L373.5 219.6 L374.5 218.9 L375.5 218.3 L376.5 217.9 L377.5 217.4 L378.5 216.6 L379.5 215.7 L380.5 215.2 L381.5 214.6 L382.5 213.6 L383.5 212.9 L384.5 212.7 L385.5 212.2 L386.5 211.4 L387.5 210.7 L388.5 210.1 L389.5 209.7 L390.5 208.6 L391.5 208.3 L392.5 207.6 L393.5 206.6 L394.5 206.4 L395.5 206.0 L396.5 205.5 L397.5 205.0 L398.5 204.5 L399.5 204.0 L400.5 202.7 L401.5 201.9 L402.5 201.3 L403.5 200.4 L404.5 199.5 L405.5 198.5 L406.5 198.5 L407.5 197.9 L408.5 197.3 L409.5 196.5 L410.5 196.4 L411.5 196.0 L412.5 195.2 L413.5 194.8 L414.5 194.4 L415.5 193.9 L416.5 193.4 L417.5 192.9 L418.5 192.0 L419.5 191.7 L420.5 191.0 L421.5 191.0 L422.5 190.4 L423.5 189.8 L424.5 189.6 L425.5 188.6 L426.5 188.5 L427.5 187.6 L428.5 187.0 L429.5 186.8 L430.5 186.0 L431.5 185.3 L432.5 184.6 L433.5 184.0 L434.5 183.3 L435.5 182.4 L436.5 181.7 L437.5 181.6 L438.5 181.4 L439.5 180.9 L440.5 180.4 L441.5 179.6 L442.5 179.7 L443.5 179.0 L444.5 178.9 L445.5 178.6 L446.5 177.8 L447.5 177.3 L448.5 176.8 L449.5 176.4 L450.5 175.8 L451.5 174.9 L452.5 174.6 L453.5 173.7 L454.5 173.1 L455.5 172.7 L456.5 171.8 L457.5 170.6 L458.5 170.2 L459.5 170.1 L460.5 169.2 L461.5 169.3 L462.5 168.7 L463.5 168.1 L464.5 167.7 L465.5 167.2 L466.5 166.5 L467.5 165.2 L468.5 164.6 L469.5 163.9 L470.5 163.4 L471.5 163.2 L472.5 162.6 L473.5 161.8 L474.5 161.0 L475.5 160.7 L476.5 160.1 L477.5 159.7 L478.5 159.2 L479.5 158.7 L480.5 158.3 L481.5 157.7 L482.5 157.3 L483.5 156.7 L484.5 155.7 L485.5 155.0 L486.5 154.5 L487.5 153.6 L488.5 153.5 L489.5 152.9 L490.5 152.3 L491.5 152.0 L492.5 151.1 L493.5 150.1 L494.5 148.8 L495.5 147.6 L496.5 146.5 L497.5 146.2 L498.5 145.6 L499.5 144.7 L500.5 144.0 L501.5 143.5 L502.5 143.1 L503.5 142.0 L504.5 141.3 L505.5 140.5 L506.5 140.0 L507.5 139.1 L508.5 138.8 L509.5 137.9 L510.5 137.7 L511.5 136.7 L512.5 136.1 L513.5 136.0 L514.5 135.6 L515.5 134.9 L516.5 134.8 L517.5 134.3 L518.5 134.2 L519.5 133.2 L520.5 132.5 L521.5 132.4 L522.5 132.0 L523.5 131.5 L524.5 130.8 L525.5 130.0 L526.5 129.5 L527.5 129.9 L528.5 128.9 L529.5 128.3 L530.5 127.8 L531.5 127.2 L532.5 126.4 L533.5 125.9 L534.5 125.3 L535.5 125.0 L536.5 124.5 L537.5 123.8 L538.5 123.1 L539.5 122.1 L540.5 121.6 L541.5 121.2 L542.5 120.4 L543.5 119.9 L544.5 119.9 L545.5 118.7 L546.5 118.2 L547.5 117.4 L548.5 117.3 L549.5 116.8 L550.5 116.2 L551.5 115.8 L552.5 114.6 L553.5 114.7 L554.5 113.9 L555.5 112.5 L556.5 112.3 L557.5 111.7 L558.5 111.0 L559.5 110.2 L560.5 109.8 L561.5 109.0 L562.5 108.1 L563.5 107.9 L564.5 106.7 L565.5 106.2 L566.5 105.5 L567.5 105.3 L568.5 104.2 L569.5 103.5 L570.5 103.1 L571.5 102.9 L572.5 102.4 L573.5 102.0 L574.5 101.3 L575.5 101.1 L576.5 100.8 L577.5 100.5 L578.5 100.0 L579.5 99.0 L580.5 99.0 L581.5 98.3 L582.5 98.2 L583.5 97.9 L584.5 97.5 L585.5 96.7 L586.5 97.0 L587.5 96.7 L588.5 96.3 L589.5 96.3 L590.5 95.8" fill="none" stroke="#ff4500" stroke-width="2.1" stroke-linejoin="round"/>
<path d="M102.5 360.8 V364.4 M103.4 358.6 V362.2 M105.5 357.5 V361.0 M112.7 357.3 V361.4 M113.8 357.2 V361.0 M116.5 356.4 V359.7 M121.2 355.2 V358.8 M122.0 354.1 V358.8 M130.3 347.0 V349.7 M131.3 347.6 V350.8 M132.6 345.0 V347.9 M135.2 344.4 V347.9 M140.8 339.2 V342.1 M141.8 337.6 V341.4 M144.1 337.0 V339.4 M147.9 335.4 V337.8 M156.1 330.4 V333.3 M160.7 328.9 V332.2 M162.0 328.9 V331.5 M164.2 327.4 V331.1 M166.3 325.6 V328.3 M168.6 325.0 V326.9 M170.8 325.3 V328.1 M172.3 321.3 V325.2 M174.4 322.1 V326.3 M177.4 319.0 V321.6 M181.5 318.9 V322.6 M183.1 318.5 V320.9 M184.0 317.1 V319.8 M189.8 316.6 V319.7 M192.2 315.4 V318.5 M194.5 314.3 V317.3 M197.2 313.0 V316.8 M198.3 310.3 V314.0 M200.3 309.0 V313.2 M202.4 310.5 V314.2 M203.7 308.0 V311.1 M207.0 307.3 V310.1 M209.5 306.0 V309.2 M220.0 298.9 V302.7 M222.9 299.3 V302.4 M223.9 299.2 V302.5 M224.9 297.3 V300.2 M231.0 292.6 V296.6 M232.5 292.3 V295.8 M233.6 291.2 V295.1 M235.1 292.7 V295.8 M238.4 287.0 V290.8 M239.4 287.0 V289.9 M244.1 283.1 V286.6 M245.0 284.6 V287.9 M246.2 282.5 V285.0 M249.8 280.2 V283.7 M255.0 280.1 V283.3 M257.0 279.2 V282.4 M260.8 276.9 V279.5 M263.5 273.6 V277.1 M267.0 274.3 V278.1 M270.6 273.0 V275.0 M272.5 270.3 V273.2 M273.8 271.3 V273.1 M277.1 267.7 V271.2 M278.2 268.8 V271.2 M282.0 267.9 V272.1 M287.0 263.9 V267.0 M290.3 262.4 V265.2 M295.5 259.0 V262.2 M298.0 257.6 V260.9 M299.9 259.0 V262.1 M307.9 255.4 V257.1 M309.3 254.4 V258.2 M312.9 252.6 V255.6 M316.5 250.5 V253.0 M317.9 250.2 V252.4 M318.7 250.0 V251.9 M321.7 248.8 V252.7 M323.1 245.4 V249.4 M324.6 246.3 V248.6 M325.9 246.0 V248.4 M328.0 242.7 V245.7 M329.2 243.0 V245.2 M335.8 239.5 V243.2 M340.6 237.9 V240.4 M342.0 236.9 V239.2 M344.2 235.2 V238.4 M349.0 229.5 V233.9 M352.1 228.1 V231.9 M355.7 227.4 V230.4 M358.1 227.5 V230.0 M359.0 224.9 V228.2 M361.1 225.8 V227.7 M362.2 224.9 V228.0 M363.8 224.3 V226.1 M366.4 222.9 V227.1 M380.6 214.0 V217.2 M388.2 209.5 V213.5 M390.4 206.6 V209.5 M395.3 205.4 V207.3 M400.0 201.2 V204.1 M401.2 201.6 V206.1 M402.3 200.9 V202.7 M411.5 192.9 V196.7 M415.3 192.9 V196.8 M418.4 191.6 V194.5 M425.5 186.5 V189.5 M431.0 185.1 V189.2 M432.5 183.9 V187.9 M433.6 181.1 V184.6 M437.8 180.7 V183.6 M439.2 178.4 V181.8 M440.0 179.8 V184.2 M443.6 178.6 V180.7 M447.0 176.8 V181.0 M449.6 175.3 V179.6 M453.9 172.7 V177.2 M457.7 168.5 V171.4 M459.2 169.2 V172.9 M461.7 168.5 V172.2 M463.2 167.0 V169.1 M464.1 165.2 V168.5 M465.0 166.7 V170.9 M466.1 164.6 V167.1 M470.7 162.3 V164.9 M477.9 158.1 V160.3 M486.7 153.9 V156.5 M497.6 145.3 V148.6 M500.0 143.5 V146.3 M504.8 140.5 V143.9 M510.8 136.7 V139.8 M513.4 134.4 V136.6 M514.9 132.4 V136.1 M516.1 133.5 V135.8 M518.7 132.5 V134.6 M519.7 131.1 V133.7 M521.0 132.0 V134.5 M530.1 126.1 V128.5 M533.8 125.2 V128.8 M535.2 122.1 V125.7 M538.4 119.9 V123.4 M540.5 118.8 V122.5 M541.7 120.2 V122.8 M542.5 117.9 V121.5 M545.0 116.7 V119.9 M546.0 117.9 V120.0 M550.1 115.9 V119.0 M556.6 111.7 V114.3 M559.6 109.2 V112.0 M561.4 108.4 V111.7 M567.5 103.5 V106.0 M569.9 100.9 V104.2 M571.4 102.3 V105.9 M574.3 100.8 V103.0 M575.2 98.9 V101.7 M577.5 99.6 V103.3 M579.1 98.9 V103.2 M583.2 94.8 V98.9 M584.4 94.2 V98.0 M585.8 94.5 V97.8" fill="none" stroke="#ff4500" stroke-width="1"/>
<path d="M99.5 362.7 L100.5 362.6 L101.5 361.7 L102.5 361.7 L103.5 361.2 L104.5 360.9 L105.5 360.4 L106.5 360.1 L107.5 359.5 L108.5 359.6 L109.5 359.4 L110.5 359.5 L111.5 359.2 L112.5 359.4 L113.5 359.0 L114.5 358.8 L115.5 359.3 L116.5 359.3 L117.5 358.5 L118.5 359.3 L119.5 358.9 L120.5 358.8 L121.5 358.3 L122.5 357.9 L123.5 357.7 L124.5 357.0 L125.5 356.7 L126.5 356.3 L127.5 356.3 L128.5 355.7 L129.5 354.9 L130.5 354.6 L131.5 354.1 L132.5 353.8 L133.5 353.6 L134.5 353.6 L135.5 353.0 L136.5 352.6 L137.5 351.8 L138.5 351.3 L139.5 351.0 L140.5 350.6 L141.5 350.5 L142.5 350.1 L143.5 349.5 L144.5 349.2 L145.5 348.3 L146.5 348.4 L147.5 348.5 L148.5 347.6 L149.5 347.5 L150.5 347.1 L151.5 346.4 L152.5 346.0 L153.5 345.6 L154.5 345.5 L155.5 345.1 L156.5 345.1 L157.5 344.8 L158.5 344.4 L159.5 344.6 L160.5 343.8 L161.5 343.5 L162.5 343.3 L163.5 342.9 L164.5 342.8 L165.5 342.6 L166.5 342.5 L167.5 341.8 L168.5 341.5 L169.5 341.3 L170.5 341.0 L171.5 340.8 L172.5 340.3 L173.5 340.4 L174.5 339.7 L175.5 339.5 L176.5 339.3 L177.5 339.3 L178.5 338.9 L179.5 338.7 L180.5 338.4 L181.5 338.3 L182.5 338.2 L183.5 337.8 L184.5 337.7 L185.5 337.1 L186.5 337.2 L187.5 337.3 L188.5 337.0 L189.5 336.3 L190.5 335.5 L191.5 335.8 L192.5 335.0 L193.5 335.2 L194.5 334.3 L195.5 334.3 L196.5 333.7 L197.5 333.7 L198.5 333.4 L199.5 332.7 L200.5 332.8 L201.5 332.9 L202.5 332.0 L203.5 331.5 L204.5 331.5 L205.5 331.2 L206.5 330.7 L207.5 330.6 L208.5 330.6 L209.5 330.1 L210.5 330.3 L211.5 329.8 L212.5 329.3 L213.5 329.2 L214.5 328.3 L215.5 328.3 L216.5 327.2 L217.5 326.7 L218.5 326.2 L219.5 325.3 L220.5 324.7 L221.5 324.2 L222.5 324.0 L223.5 323.5 L224.5 322.9 L225.5 322.4 L226.5 321.7 L227.5 321.9 L228.5 321.4 L229.5 320.1 L230.5 320.2 L231.5 319.5 L232.5 319.2 L233.5 318.5 L234.5 317.8 L235.5 317.2 L236.5 316.7 L237.5 316.5 L238.5 315.9 L239.5 315.4 L240.5 315.2 L241.5 314.8 L242.5 314.2 L243.5 313.7 L244.5 313.5 L245.5 312.9 L246.5 312.2 L247.5 311.7 L248.5 311.5 L249.5 310.6 L250.5 310.5 L251.5 310.1 L252.5 309.8 L253.5 309.3 L254.5 309.5 L255.5 308.7 L256.5 308.2 L257.5 308.2 L258.5 307.3 L259.5 306.9 L260.5 306.8 L261.5 306.3 L262.5 306.0 L263.5 305.6 L264.5 304.9 L265.5 304.4 L266.5 304.0 L267.5 303.8 L268.5 303.5 L269.5 302.7 L270.5 302.4 L271.5 301.9 L272.5 302.1 L273.5 301.5 L274.5 301.0 L275.5 300.4 L276.5 300.3 L277.5 300.2 L278.5 300.1 L279.5 299.7 L280.5 299.7 L281.5 299.7 L282.5 299.3 L283.5 299.1 L284.5 298.5 L285.5 298.6 L286.5 298.4 L287.5 297.9 L288.5 297.3 L289.5 297.2 L290.5 296.6 L291.5 296.3 L292.5 295.8 L293.5 295.8 L294.5 295.7 L295.5 295.0 L296.5 294.9 L297.5 294.3 L298.5 294.7 L299.5 294.7 L300.5 294.1 L301.5 294.2 L302.5 293.8 L303.5 294.0 L304.5 294.2 L305.5 293.8 L306.5 293.5 L307.5 293.6 L308.5 293.2 L309.5 292.8 L310.5 292.2 L311.5 291.9 L312.5 291.7 L313.5 292.2 L314.5 291.9 L315.5 291.5 L316.5 291.8 L317.5 291.8 L318.5 291.0 L319.5 291.0 L320.5 290.3 L321.5 290.4 L322.5 290.3 L323.5 289.3 L324.5 289.0 L325.5 288.3 L326.5 287.8 L327.5 287.2 L328.5 286.7 L329.5 286.4 L330.5 286.1 L331.5 285.9 L332.5 285.5 L333.5 285.3 L334.5 284.6 L335.5 284.6 L336.5 284.3 L337.5 284.0 L338.5 284.4 L339.5 283.8 L340.5 283.5 L341.5 282.6 L342.5 282.6 L343.5 282.4 L344.5 281.8 L345.5 281.3 L346.5 281.4 L347.5 280.8 L348.5 280.5 L349.5 280.2 L350.5 279.9 L351.5 279.8 L352.5 279.6 L353.5 279.2 L354.5 279.0 L355.5 278.8 L356.5 279.0 L357.5 278.4 L358.5 278.4 L359.5 277.8 L360.5 277.9 L361.5 277.8 L362.5 277.7 L363.5 276.8 L364.5 276.2 L365.5 276.0 L366.5 276.1 L367.5 276.2 L368.5 275.7 L369.5 275.4 L370.5 275.6 L371.5 275.3 L372.5 275.0 L373.5 274.7 L374.5 274.2 L375.5 273.7 L376.5 273.4 L377.5 272.7 L378.5 272.5 L379.5 271.9 L380.5 271.7 L381.5 271.2 L382.5 270.7 L383.5 270.1 L384.5 270.1 L385.5 269.6 L386.5 269.4 L387.5 269.2 L388.5 269.0 L389.5 268.3 L390.5 268.5 L391.5 268.4 L392.5 268.1 L393.5 267.7 L394.5 267.3 L395.5 267.4 L396.5 266.7 L397.5 266.1 L398.5 266.2 L399.5 265.9 L400.5 265.5 L401.5 265.2 L402.5 265.7 L403.5 265.1 L404.5 265.0 L405.5 264.5 L406.5 264.0 L407.5 264.0 L408.5 264.0 L409.5 263.3 L410.5 262.8 L411.5 262.9 L412.5 262.7 L413.5 262.5 L414.5 262.1 L415.5 262.1 L416.5 261.8 L417.5 261.9 L418.5 261.5 L419.5 261.5 L420.5 261.1 L421.5 260.4 L422.5 260.2 L423.5 260.2 L424.5 259.9 L425.5 259.5 L426.5 258.9 L427.5 258.2 L428.5 258.3 L429.5 258.2 L430.5 257.3 L431.5 256.4 L432.5 255.9 L433.5 255.5 L434.5 255.5 L435.5 255.0 L436.5 254.2 L437.5 254.5 L438.5 253.9 L439.5 253.5 L440.5 253.2 L441.5 253.2 L442.5 253.5 L443.5 253.4 L444.5 252.5 L445.5 252.4 L446.5 252.3 L447.5 252.2 L448.5 251.9 L449.5 251.5 L450.5 251.5 L451.5 251.3 L452.5 251.0 L453.5 251.1 L454.5 250.4 L455.5 250.0 L456.5 250.3 L457.5 249.9 L458.5 249.6 L459.5 249.1 L460.5 248.7 L461.5 248.4 L462.5 247.9 L463.5 248.0 L464.5 247.6 L465.5 247.1 L466.5 246.5 L467.5 246.4 L468.5 246.4 L469.5 246.0 L470.5 245.6 L471.5 245.1 L472.5 244.9 L473.5 244.7 L474.5 244.3 L475.5 244.2 L476.5 243.6 L477.5 243.0 L478.5 242.8 L479.5 242.8 L480.5 242.4 L481.5 242.5 L482.5 242.1 L483.5 241.4 L484.5 241.1 L485.5 240.5 L486.5 240.1 L487.5 239.7 L488.5 239.5 L489.5 239.6 L490.5 239.1 L491.5 239.0 L492.5 239.0 L493.5 238.9 L494.5 238.6 L495.5 238.4 L496.5 237.2 L497.5 236.4 L498.5 235.5 L499.5 234.8 L500.5 234.7 L501.5 234.6 L502.5 233.8 L503.5 233.9 L504.5 233.8 L505.5 233.4 L506.5 233.1 L507.5 232.9 L508.5 232.9 L509.5 232.1 L510.5 231.7 L511.5 231.3 L512.5 230.8 L513.5 230.9 L514.5 230.5 L515.5 230.7 L516.5 230.5 L517.5 230.3 L518.5 230.2 L519.5 229.9 L520.5 229.4 L521.5 229.6 L522.5 229.6 L523.5 229.0 L524.5 228.9 L525.5 229.2 L526.5 228.9 L527.5 228.6 L528.5 227.6 L529.5 226.7 L530.5 225.9 L531.5 225.6 L532.5 225.0 L533.5 224.6 L534.5 224.2 L535.5 223.7 L536.5 223.8 L537.5 222.8 L538.5 222.3 L539.5 222.0 L540.5 222.0 L541.5 221.5 L542.5 221.4 L543.5 221.0 L544.5 220.9 L545.5 220.3 L546.5 220.3 L547.5 219.8 L548.5 219.7 L549.5 219.2 L550.5 218.5 L551.5 218.2 L552.5 218.0 L553.5 217.6 L554.5 217.0 L555.5 216.4 L556.5 216.1 L557.5 214.9 L558.5 214.9 L559.5 214.4 L560.5 214.0 L561.5 213.9 L562.5 213.4 L563.5 213.0 L564.5 212.5 L565.5 212.3 L566.5 211.9 L567.5 211.3 L568.5 211.2 L569.5 210.4 L570.5 210.5 L571.5 209.5 L572.5 209.4 L573.5 208.8 L574.5 208.6 L575.5 208.6 L576.5 207.9 L577.5 208.1 L578.5 207.7 L579.5 207.2 L580.5 206.6 L581.5 206.5 L582.5 205.4 L583.5 205.4 L584.5 205.3 L585.5 204.7 L586.5 205.0 L587.5 204.1 L588.5 203.7 L589.5 203.7 L590.5 203.6" fill="none" stroke="#8b0000" stroke-width="2.1" stroke-linejoin="round"/>
<path d="M104.6 359.1 V361.9 M106.1 357.9 V361.2 M107.6 357.8 V361.0 M109.2 359.1 V363.1 M116.7 358.5 V361.8 M120.8 357.4 V359.9 M124.8 354.6 V358.1 M128.7 352.3 V355.8 M130.0 354.0 V357.3 M132.3 353.7 V357.1 M135.7 352.1 V355.7 M139.1 350.8 V354.2 M141.7 349.5 V352.5 M144.8 346.4 V349.7 M156.6 344.0 V347.9 M161.7 342.9 V347.3 M166.5 342.0 V344.7 M172.2 339.7 V341.7 M174.4 338.0 V340.7 M182.0 336.9 V339.2 M183.3 336.1 V339.0 M184.2 335.8 V338.2 M190.3 334.7 V336.4 M193.6 334.3 V338.4 M199.3 332.1 V334.7 M208.5 327.5 V331.5 M210.5 329.5 V331.6 M213.1 326.3 V330.1 M215.2 326.7 V329.3 M216.8 326.7 V329.8 M222.6 322.6 V326.9 M223.5 322.4 V324.8 M224.7 322.2 V324.9 M225.5 321.9 V324.5 M226.6 320.7 V323.0 M227.8 320.9 V324.9 M230.3 319.5 V322.8 M234.8 314.5 V318.6 M236.6 315.0 V317.7 M239.6 314.7 V318.4 M240.7 314.1 V316.7 M246.5 311.8 V313.6 M248.8 310.5 V313.8 M251.0 307.5 V310.9 M252.2 308.9 V312.1 M261.3 303.3 V306.8 M266.9 301.3 V304.7 M268.0 302.3 V304.2 M269.1 302.4 V304.5 M270.2 301.9 V305.2 M271.1 301.5 V306.0 M272.2 299.0 V302.6 M273.0 301.0 V303.7 M279.2 296.7 V300.7 M283.3 298.2 V300.9 M285.4 297.8 V300.1 M288.2 294.5 V298.3 M290.6 296.3 V299.3 M294.9 293.6 V296.4 M298.8 293.7 V296.2 M302.2 293.2 V296.6 M307.2 292.6 V297.1 M313.0 288.6 V292.4 M316.9 291.1 V293.0 M318.5 288.4 V291.6 M319.8 290.1 V293.2 M322.1 288.8 V290.7 M325.2 287.7 V291.8 M327.7 285.6 V287.9 M329.2 286.0 V290.1 M333.9 282.4 V285.8 M335.1 284.1 V287.5 M336.0 283.6 V287.1 M346.1 278.9 V281.8 M348.9 278.6 V281.2 M351.1 278.0 V280.8 M352.6 279.0 V282.3 M356.5 276.7 V279.6 M357.8 277.9 V280.3 M363.4 276.2 V280.5 M364.2 274.7 V277.2 M366.8 274.6 V276.8 M371.2 274.4 V278.0 M375.5 273.1 V277.0 M377.8 271.5 V273.6 M380.9 270.9 V273.8 M387.1 266.5 V269.7 M389.5 267.8 V271.6 M391.9 266.5 V268.8 M392.7 264.5 V268.4 M393.8 265.3 V268.6 M399.1 262.9 V266.8 M402.4 264.0 V266.4 M403.7 262.0 V265.6 M406.4 261.3 V265.1 M407.9 263.3 V266.0 M412.1 260.8 V263.7 M413.3 262.1 V265.5 M416.4 261.3 V263.4 M419.9 257.9 V261.6 M421.4 259.9 V263.8 M425.3 258.2 V260.4 M426.6 258.5 V262.4 M431.0 253.8 V257.8 M437.5 252.4 V255.3 M439.4 251.9 V254.2 M446.6 250.7 V253.0 M447.8 248.8 V252.5 M449.5 251.1 V254.9 M451.9 250.4 V253.1 M453.1 248.4 V251.6 M462.9 247.6 V249.7 M464.3 246.7 V249.4 M465.2 246.5 V250.0 M472.9 243.9 V248.2 M475.0 242.7 V245.1 M479.5 241.5 V244.1 M483.9 238.1 V242.1 M488.2 238.3 V240.4 M489.6 237.7 V239.9 M491.4 238.2 V241.5 M496.9 235.1 V237.5 M500.7 231.9 V235.2 M501.5 233.0 V235.4 M504.3 230.5 V234.6 M506.3 231.3 V233.8 M511.1 228.9 V232.2 M513.8 227.6 V231.9 M521.6 229.2 V232.0 M523.1 228.4 V231.2 M530.6 223.1 V226.9 M531.8 223.9 V225.7 M537.2 221.2 V223.9 M538.4 221.7 V224.9 M545.4 220.2 V222.3 M547.7 219.1 V221.5 M552.5 215.5 V218.5 M555.0 215.0 V217.5 M565.0 211.4 V216.1 M566.6 210.7 V213.5 M568.0 210.3 V212.4 M569.1 208.5 V211.4 M571.8 206.5 V210.8 M573.0 208.6 V211.0 M574.3 205.8 V209.5 M579.7 206.5 V210.2 M582.4 203.7 V206.7 M585.3 204.3 V208.4 M589.9 201.3 V204.4" fill="none" stroke="#8b0000" stroke-width="1"/>
</g>
<rect x="99.5" y="62.5" width="492.3" height="300.5" fill="none" stroke="#000" stroke-width="3"/>
<g>
<text x="273.2" y="85.1" text-anchor="end">LinUCB-SIN</text>
<line x1="286.6" y1="78.2" x2="342" y2="78.2" stroke="#00ffff" stroke-width="1.5"/>
<text x="273.2" y="105.9" text-anchor="end">LinUCB-IND</text>
<line x1="286.6" y1="99.0" x2="342" y2="99.0" stroke="#0000ff" stroke-width="1.5"/>
<text x="273.2" y="126.7" text-anchor="end">GOB.Lin</text>
<line x1="286.6" y1="119.8" x2="342" y2="119.8" stroke="#ff0000" stroke-width="1.5"/>
<text x="273.2" y="147.5" text-anchor="end">GOB.Lin.MACRO</text>
<line x1="286.6" y1="140.6" x2="342" y2="140.6" stroke="#ff4500" stroke-width="1.5"/>
<text x="273.2" y="168.3" text-anchor="end">GOB.Lin.BLOCK</text>
<line x1="286.6" y1="161.4" x2="342" y2="161.4" stroke="#8b0000" stroke-width="1.5"/>
</g>
<g>
<text x="88.2" y="369.9" text-anchor="end">0</text>
<text x="88.2" y="316.2" text-anchor="end">250</text>
<text x="88.2" y="262.6" text-anchor="end">500</text>
<text x="88.2" y="208.9" text-anchor="end">750</text>
<text x="88.2" y="155.3" text-anchor="end">1000</text>
<text x="88.2" y="101.6" text-anchor="end">1250</text>
<text x="102.1" y="391.3" text-anchor="middle">0</text>
<text x="200.6" y="391.3" text-anchor="middle">2000</text>
<text x="299.0" y="391.3" text-anchor="middle">4000</text>
<text x="397.5" y="391.3" text-anchor="middle">6000</text>
<text x="495.9" y="391.3" text-anchor="middle">8000</text>
<text x="594.4" y="391.3" text-anchor="middle">10000</text>
<text x="345.8" y="38.9" text-anchor="middle">Last.fm</text>
<text x="345.5" y="421.7" text-anchor="middle">TIME</text>
<text transform="translate(9.2,213.3) rotate(-90)" text-anchor="middle" style="font-size:21.2px">CUMULATIVE REWARD</text>
</g>
</svg>
</body></html>
